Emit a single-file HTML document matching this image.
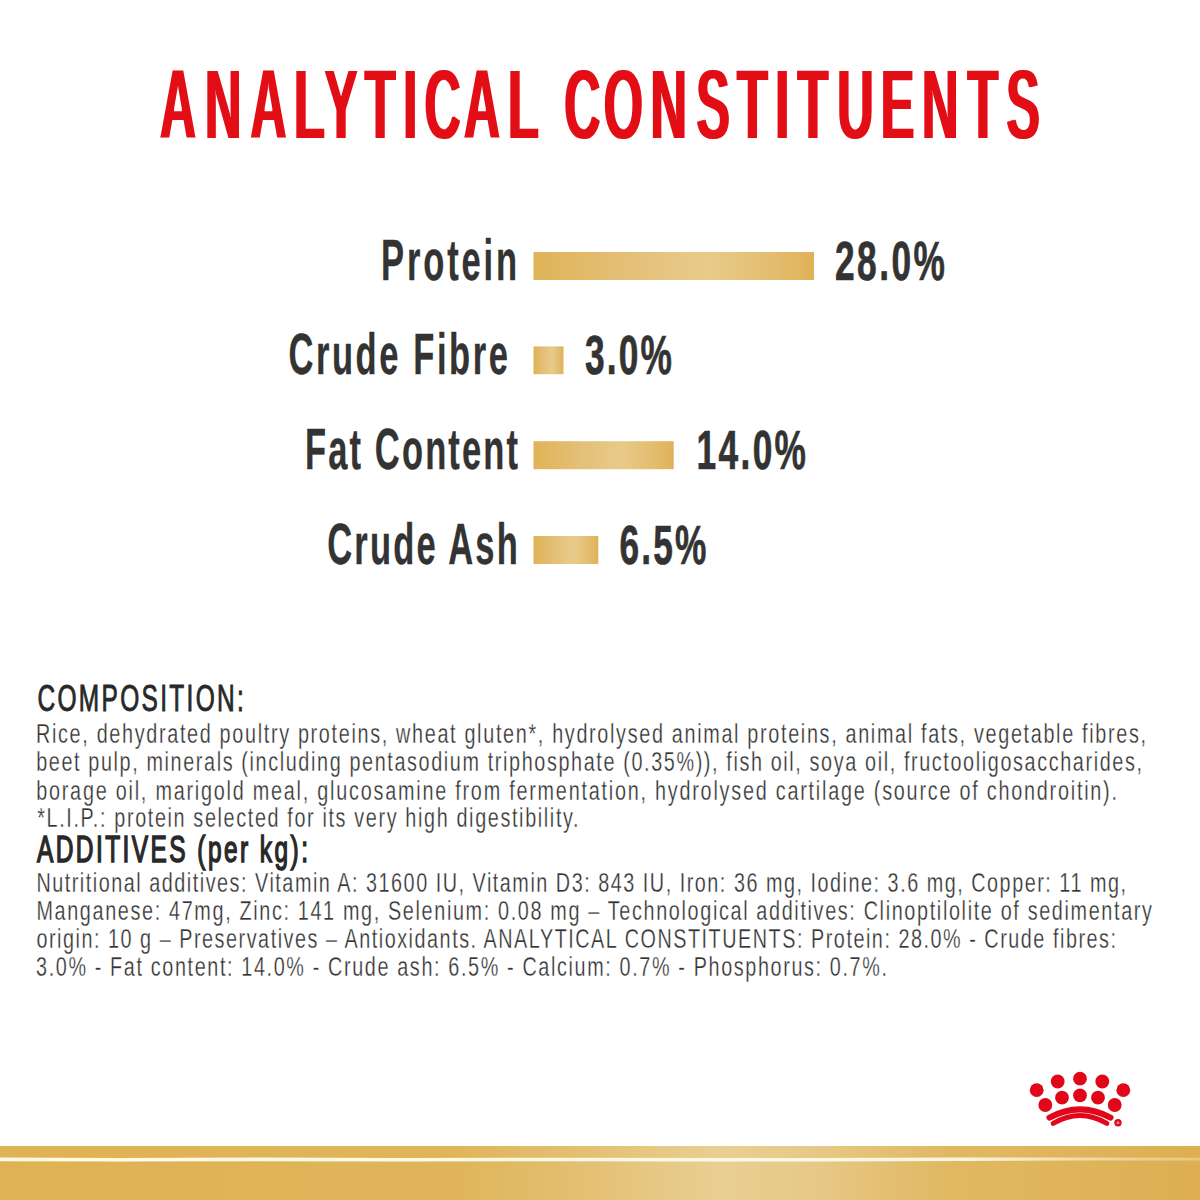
<!DOCTYPE html>
<html lang="en">
<head>
<meta charset="utf-8">
<title>Analytical Constituents</title>
<style>
html,body{margin:0;padding:0;background:#fff;}
body{width:1200px;height:1200px;overflow:hidden;position:relative;}
svg{position:absolute;left:0;top:0;display:block;}
.t{font-family:"Liberation Sans",Arial,sans-serif;}
.title{font-size:100.8px;fill:#e30a17;font-weight:700;}
.lab{font-size:57.5px;fill:#333;font-weight:700;stroke:#333;stroke-width:0.3px;}
.val{font-size:56px;fill:#333;font-weight:700;stroke:#333;stroke-width:0.7px;}
.h{font-size:36px;fill:#282828;font-weight:400;stroke:#282828;stroke-width:0.9px;}
.h2{stroke-width:1.5px;}
.b{font-size:27.5px;fill:#333;font-weight:400;stroke:#fff;stroke-width:0.3px;}
</style>
</head>
<body>
<svg width="1200" height="1200" viewBox="0 0 1200 1200">
<defs>
<linearGradient id="gb" x1="0" y1="0" x2="1" y2="0">
<stop offset="0" stop-color="#dfb357"/>
<stop offset="0.35" stop-color="#e4c079"/>
<stop offset="0.62" stop-color="#e8cb89"/>
<stop offset="0.85" stop-color="#e3bd6f"/>
<stop offset="1" stop-color="#dfb257"/>
</linearGradient>
<linearGradient id="gs" x1="0" y1="0" x2="1" y2="0">
<stop offset="0" stop-color="#dfb253"/>
<stop offset="0.38" stop-color="#e0b55a"/>
<stop offset="0.5" stop-color="#e4c176"/>
<stop offset="0.6" stop-color="#eacf93"/>
<stop offset="0.68" stop-color="#e7c886"/>
<stop offset="0.79" stop-color="#e1b862"/>
<stop offset="1" stop-color="#ddaf52"/>
</linearGradient>
<linearGradient id="gw" x1="0" y1="0" x2="1" y2="0">
<stop offset="0" stop-color="#fffbe8" stop-opacity="1"/>
<stop offset="0.8" stop-color="#fffbe8" stop-opacity="0.95"/>
<stop offset="0.9" stop-color="#fffbe8" stop-opacity="0.55"/>
<stop offset="1" stop-color="#fffbe8" stop-opacity="0.3"/>
</linearGradient>
</defs>
<filter id="f_title" x="-5%" y="-20%" width="110%" height="140%"><feMorphology operator="dilate" radius="2.600 0.000"/><feMorphology operator="erode" radius="0.01 0.900"/></filter><text class="t title" transform="matrix(0.5000 0 0 1 0 0)" x="319.68 410.13 500.68 587.89 648.33 729.69 806.50 848.91 927.68 1015.89 1015.89 1128.41 1207.35 1301.13 1392.40 1474.19 1550.50 1595.19 1674.65 1761.48 1844.03 1935.19 2012.50" y="139.00" filter="url(#f_title)">ANALYTICAL CONSTITUENTS</text>
<text class="t lab" transform="matrix(0.6000 0 0 1 381.00 0)" x="0" y="280.00" textLength="226.83" lengthAdjust="spacing">Protein</text>
<text class="t val" transform="matrix(0.6300 0 0 1 835.00 0)" x="0" y="280.00" textLength="174.60" lengthAdjust="spacing">28.0%</text>
<text class="t lab" transform="matrix(0.6000 0 0 1 288.40 0)" x="0" y="374.30" textLength="366.00" lengthAdjust="spacing">Crude Fibre</text>
<text class="t val" transform="matrix(0.6300 0 0 1 585.00 0)" x="0" y="374.30" textLength="138.10" lengthAdjust="spacing">3.0%</text>
<text class="t lab" transform="matrix(0.6000 0 0 1 305.00 0)" x="0" y="469.40" textLength="355.00" lengthAdjust="spacing">Fat Content</text>
<text class="t val" transform="matrix(0.6300 0 0 1 696.50 0)" x="0" y="469.40" textLength="173.81" lengthAdjust="spacing">14.0%</text>
<text class="t lab" transform="matrix(0.6000 0 0 1 327.20 0)" x="0" y="564.40" textLength="317.67" lengthAdjust="spacing">Crude Ash</text>
<text class="t val" transform="matrix(0.6300 0 0 1 619.40 0)" x="0" y="564.40" textLength="138.10" lengthAdjust="spacing">6.5%</text>
<text class="t h" transform="matrix(0.6800 0 0 1 37.50 0)" x="0" y="710.80" textLength="303.53" lengthAdjust="spacing">COMPOSITION:</text>
<text class="t b" transform="matrix(0.7200 0 0 1 36.00 0)" x="0" y="743.20" textLength="1541.67" lengthAdjust="spacing">Rice, dehydrated poultry proteins, wheat gluten*, hydrolysed animal proteins, animal fats, vegetable fibres,</text>
<text class="t b" transform="matrix(0.7200 0 0 1 36.20 0)" x="0" y="771.20" textLength="1535.83" lengthAdjust="spacing">beet pulp, minerals (including pentasodium triphosphate (0.35%)), fish oil, soya oil, fructooligosaccharides,</text>
<text class="t b" transform="matrix(0.7200 0 0 1 36.20 0)" x="0" y="799.60" textLength="1501.11" lengthAdjust="spacing">borage oil, marigold meal, glucosamine from fermentation, hydrolysed cartilage (source of chondroitin).</text>
<text class="t b" transform="matrix(0.7200 0 0 1 37.20 0)" x="0" y="827.40" textLength="751.94" lengthAdjust="spacing">*L.I.P.: protein selected for its very high digestibility.</text>
<text class="t h h2" transform="matrix(0.6800 0 0 1 37.00 0)" x="0" y="861.60" textLength="398.53" lengthAdjust="spacing">ADDITIVES (per kg):</text>
<text class="t b" transform="matrix(0.7200 0 0 1 36.40 0)" x="0" y="891.60" textLength="1513.33" lengthAdjust="spacing">Nutritional additives: Vitamin A: 31600 IU, Vitamin D3: 843 IU, Iron: 36 mg, Iodine: 3.6 mg, Copper: 11 mg,</text>
<text class="t b" transform="matrix(0.7200 0 0 1 36.40 0)" x="0" y="919.60" textLength="1549.44" lengthAdjust="spacing">Manganese: 47mg, Zinc: 141 mg, Selenium: 0.08 mg – Technological additives: Clinoptilolite of sedimentary</text>
<text class="t b" transform="matrix(0.7200 0 0 1 36.40 0)" x="0" y="948.00" textLength="1499.44" lengthAdjust="spacing">origin: 10 g – Preservatives – Antioxidants. ANALYTICAL CONSTITUENTS: Protein: 28.0% - Crude fibres:</text>
<text class="t b" transform="matrix(0.7200 0 0 1 36.00 0)" x="0" y="976.00" textLength="1181.94" lengthAdjust="spacing">3.0% - Fat content: 14.0% - Crude ash: 6.5% - Calcium: 0.7% - Phosphorus: 0.7%.</text>



<rect x="533.5" y="252" width="280.5" height="28" fill="url(#gb)"/>

<rect x="533.5" y="346.4" width="30" height="27.8" fill="url(#gb)"/>

<rect x="533.5" y="441.2" width="140.2" height="28" fill="url(#gb)"/>

<rect x="533.5" y="536" width="64.8" height="28" fill="url(#gb)"/>


<!-- logo -->
<g fill="#e2061b">
<circle cx="1036.7" cy="1090.2" r="6.9"/>
<circle cx="1057.7" cy="1081.5" r="6.9"/>
<circle cx="1080" cy="1078.7" r="6.9"/>
<circle cx="1102.3" cy="1081.5" r="6.9"/>
<circle cx="1123.3" cy="1090.2" r="6.9"/>
<circle cx="1045.3" cy="1105" r="6.9"/>
<circle cx="1062" cy="1097.7" r="6.9"/>
<circle cx="1080" cy="1095.3" r="6.9"/>
<circle cx="1098" cy="1097.7" r="6.9"/>
<circle cx="1114.7" cy="1105" r="6.9"/>
<circle cx="1118" cy="1122.7" r="3.7"/>
</g>
<circle cx="1118" cy="1122.7" r="1.5" fill="#f08a90"/>
<g fill="none" stroke="#e2061b" stroke-linecap="round">
<path d="M1049.5 1117.6 Q1080 1101 1110.5 1117.6" stroke-width="6.1"/>
<path d="M1053.2 1123.4 Q1080 1107.6 1106.8 1123.4" stroke-width="4.9"/>
</g>

<!-- bottom strip -->
<rect x="0" y="1146" width="1200" height="54" fill="url(#gs)"/>
<path d="M0 1157.6 L120 1157.9 L260 1157.6 L400 1158.0 L560 1157.8 L700 1158.1 L820 1158.0 L960 1157.6 L1080 1157.5 L1200 1157.8 L1200 1160.4 L1080 1160.6 L960 1161.0 L820 1161.6 L700 1161.4 L560 1161.2 L400 1161.5 L260 1161.2 L120 1161.4 L0 1161.3 Z" fill="url(#gw)"/>
</svg>
</body>
</html>
